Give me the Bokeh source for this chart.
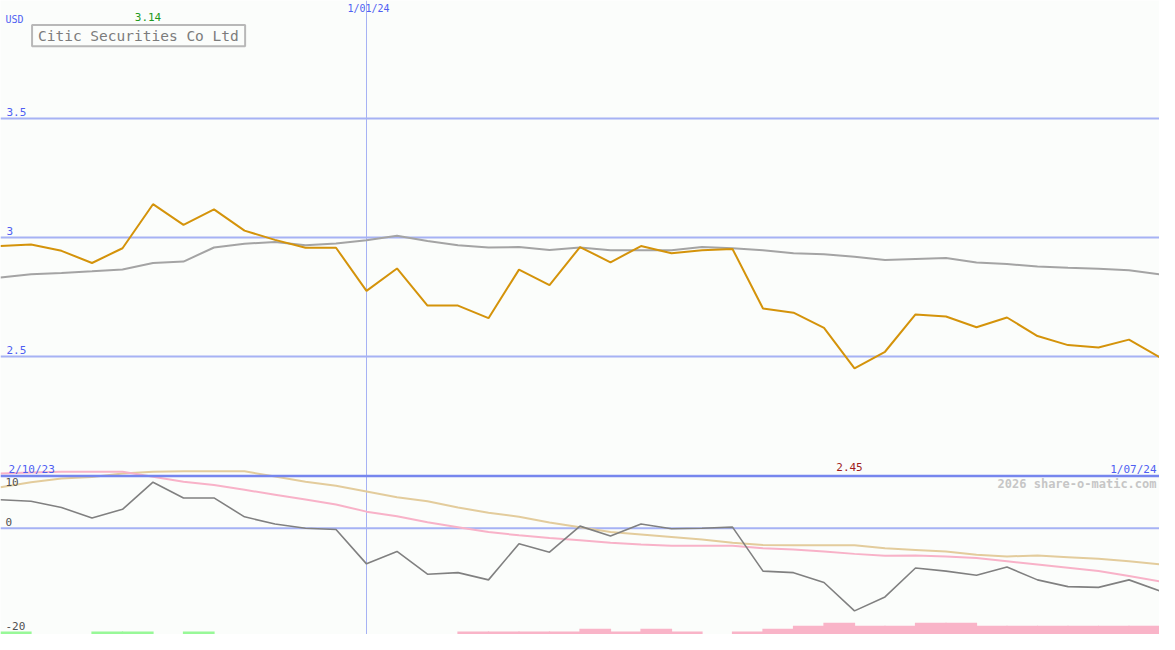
from bokeh.plotting import figure
from bokeh.models import Range1d, Span, ColumnDataSource
from bokeh.core.properties import value
from bokeh.embed import file_html
from bokeh.resources import INLINE

# ---------------- data ----------------
title = "Citic Securities Co Ltd"
currency = "USD"
date_labels = ["2/10/23", "1/01/24", "1/07/24"]
date_index = [0, 12, 38]

price = [2.964, 2.971, 2.944, 2.893, 2.955, 3.14, 3.053, 3.118, 3.029, 2.99,
         2.957, 2.957, 2.776, 2.87, 2.714, 2.714, 2.661, 2.865, 2.80, 2.96,
         2.896, 2.964, 2.934, 2.947, 2.952, 2.702, 2.684, 2.62, 2.45, 2.52,
         2.677, 2.668, 2.623, 2.664, 2.586, 2.548, 2.538, 2.571, 2.497]
price_ma = [2.832, 2.846, 2.851, 2.858, 2.866, 2.893, 2.899, 2.958, 2.974, 2.981,
            2.968, 2.975, 2.989, 3.007, 2.985, 2.968, 2.958, 2.960, 2.948, 2.958,
            2.947, 2.947, 2.947, 2.960, 2.955, 2.947, 2.934, 2.930, 2.919, 2.906,
            2.910, 2.914, 2.895, 2.889, 2.878, 2.873, 2.869, 2.862, 2.845]
osc = [5.5, 5.2, 4.0, 1.95, 3.65, 8.9, 5.85, 5.85, 2.2, 0.8,
       0.0, -0.25, -6.9, -4.5, -8.9, -8.6, -10.0, -3.0, -4.65, 0.4,
       -1.5, 0.8, -0.1, 0.0, 0.2, -8.3, -8.6, -10.5, -16.0, -13.3,
       -7.7, -8.3, -9.1, -7.5, -10.0, -11.3, -11.45, -10.0, -12.1]
osc_slow = [7.9, 8.9, 9.6, 9.9, 10.6, 10.9, 11.0, 11.0, 11.0, 10.0,
            9.0, 8.2, 7.1, 6.0, 5.2, 4.0, 3.0, 2.2, 1.1, 0.2,
            -0.75, -1.2, -1.7, -2.2, -2.8, -3.27, -3.3, -3.3, -3.3, -3.9,
            -4.2, -4.5, -5.16, -5.47, -5.28, -5.6, -5.9, -6.4, -7.0]
osc_signal = [10.6, 10.75, 10.9, 10.9, 10.9, 9.94, 9.0, 8.36, 7.42, 6.47,
              5.53, 4.58, 3.2, 2.3, 1.13, 0.19, -0.75, -1.38, -1.89, -2.33,
              -2.83, -3.14, -3.4, -3.4, -3.4, -3.9, -4.1, -4.53, -4.97, -5.35,
              -5.3, -5.47, -5.79, -6.4, -7.04, -7.67, -8.3, -9.25, -10.3]
signal_bars = [1, 0, 0, 1, 1, 0, 1, 0, 0, 0,
               0, 0, 0, 0, 0, -1, -1, -1, -1, -2,
               -1, -2, -1, 0, -1, -2, -3, -4, -3, -3,
               -4, -4, -3, -3, -3, -3, -3, -3]
price_ticks = [2.5, 3.0, 3.5]
osc_ticks = [10, 0, -20]

# ---------------- geometry helpers (reference pixel -> data) ----------------
N = len(price)
SP = 1175.0 / (N - 1)          # px per step in reference


def fx(px):
    return px / SP


def fy(py):                     # price panel
    return 3.0 - (py - 243.0) / 244.0


def fo(py):                     # oscillator panel
    return (541.0 - py) / 5.3


W, H = 1159, 634
BG = "#fbfdfb"
BLUE_TXT = "#4f5ff2"
GRID = "#a6b2f4"
MONO = value("DejaVu Sans Mono")

p = figure(width=W, height=H, x_range=Range1d(0, N - 1), y_range=Range1d(fy(650), fy(0)),
           output_backend="svg", toolbar_location=None,
           x_axis_location=None, y_axis_location=None, min_border=0,
           background_fill_color=BG, border_fill_color=BG, outline_line_color=None)
p.extra_y_ranges = {"osc": Range1d(fo(650), fo(0)), "vol": Range1d(0, 650 / 3.0)}
p.xgrid.visible = False
p.ygrid.visible = False

# grid lines
for t in price_ticks:
    p.add_layout(Span(location=t, dimension="width", line_color=GRID, line_width=2, level="underlay"))
p.add_layout(Span(location=0, dimension="width", y_range_name="osc", line_color=GRID,
                  line_width=2, level="underlay"))
p.add_layout(Span(location=date_index[1], dimension="height", line_color=GRID, line_width=1,
                  level="underlay"))
p.add_layout(Span(location=fo(487.5), dimension="width", y_range_name="osc", line_color="#7686ee",
                  line_width=2.5))

xs = list(range(N))

# signal bars (one per interval between points)
idx = [i for i in range(len(signal_bars)) if signal_bars[i] != 0]
bsrc = ColumnDataSource(dict(
    x=[i + 0.5 for i in idx],
    top=[abs(signal_bars[i]) for i in idx],
    color=["#98f898" if signal_bars[i] > 0 else "#f9b4c8" for i in idx],
))
p.vbar(x="x", width=1.04, bottom=0, top="top", source=bsrc, y_range_name="vol",
       fill_color="color", line_color=None)

# oscillator panel lines
p.line(xs, osc_slow, y_range_name="osc", line_color="#e3cc9c", line_width=2)
p.line(xs, osc_signal, y_range_name="osc", line_color="#f8b2c8", line_width=2)
p.line(xs, osc, y_range_name="osc", line_color="#808080", line_width=1.6)

# price panel lines
p.line(xs, price_ma, line_color="#a4a4a4", line_width=2)
p.line(xs, price, line_color="#d4930a", line_width=2)

# title box
p.quad(left=fx(32), right=fx(248), top=fy(25), bottom=fy(47), fill_color=BG,
       line_color="#b8b8b8", line_width=2)
p.text(x=[fx(38)], y=[fy(36.5)], text=[title], text_font=MONO, text_font_size="14.5px",
       text_color="#7c7c7c", text_baseline="middle", text_align="left")

# price axis labels
p.text(x=[fx(5)], y=[fy(14)], text=[currency], text_font=MONO, text_font_size="10px",
       text_color=BLUE_TXT, text_baseline="top")
p.text(x=[fx(6)] * len(price_ticks), y=price_ticks, text=[("%g" % t) for t in price_ticks],
       y_offset=-3, text_font=MONO, text_font_size="11px", text_color=BLUE_TXT,
       text_baseline="bottom")

# oscillator axis labels
p.text(x=[fx(5)], y=[fo(490)], text=[str(osc_ticks[0])], y_range_name="osc", text_font=MONO,
       text_font_size="11px", text_color="#505050", text_baseline="top")
p.text(x=[fx(5)] * 2, y=osc_ticks[1:], text=[str(t) for t in osc_ticks[1:]], y_range_name="osc",
       y_offset=-2, text_font=MONO, text_font_size="11px", text_color="#505050",
       text_baseline="bottom")

# date labels
p.text(x=[date_index[1]], y=[fy(3)], text=[date_labels[1]], text_font=MONO, text_font_size="10px",
       text_color=BLUE_TXT, text_baseline="top", text_align="center", x_offset=2)
p.text(x=[date_index[0]], y=[fy(474)], text=[date_labels[0]], x_offset=8, text_font=MONO,
       text_font_size="11px", text_color=BLUE_TXT, text_baseline="top", text_align="left")
p.text(x=[date_index[2]], y=[fy(474)], text=[date_labels[2]], x_offset=-3, text_font=MONO,
       text_font_size="11px", text_color=BLUE_TXT, text_baseline="top", text_align="right")

# high / low labels
hi = max(price)
lo = min(price)
p.text(x=[price.index(hi)], y=[fy(13)], text=["%.2f" % hi], text_font=MONO, text_font_size="11px",
       text_color="#1f9a1f", text_baseline="top", text_align="center", x_offset=-5)
p.text(x=[price.index(lo)], y=[fy(474)], text=["%.2f" % lo], text_font=MONO, text_font_size="11px",
       text_color="#a01c1c", text_baseline="top", text_align="center", x_offset=-5)

# watermark
p.text(x=[N - 1], y=[fo(489)], text=["2026 share-o-matic.com"], y_range_name="osc",
       x_offset=-3, text_font=MONO, text_font_size="12px", text_font_style="bold",
       text_color="#c6c6c6", text_baseline="top", text_align="right")

open("out.html", "w").write(file_html(p, INLINE))
